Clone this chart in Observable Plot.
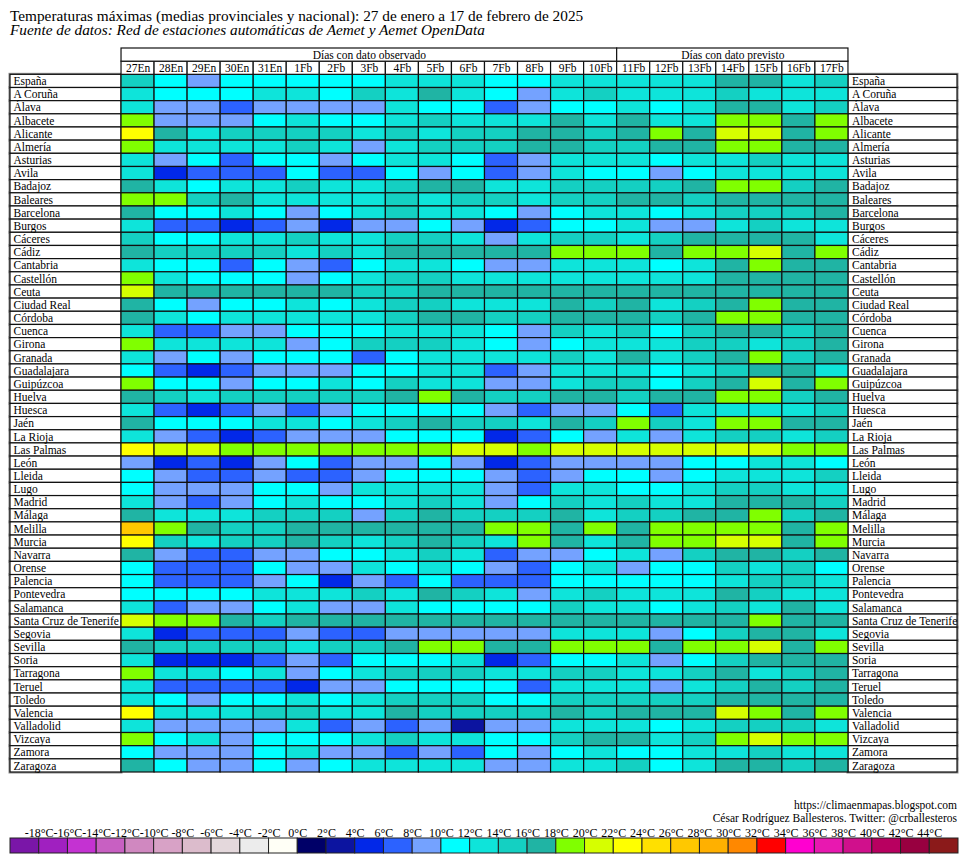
<!DOCTYPE html>
<html><head><meta charset="utf-8">
<script src="https://cdn.jsdelivr.net/npm/d3@7"></script>
<script src="https://cdn.jsdelivr.net/npm/@observablehq/plot@0.6"></script>
<style>
body{margin:0;background:#fff;width:967px;height:860px;position:relative;overflow:hidden;font-family:"Liberation Serif","Times New Roman",serif;color:#000;}
#title{position:absolute;left:10px;top:8.5px;font-size:15.3px;line-height:14px;white-space:nowrap;}
#subtitle{position:absolute;left:10px;top:22.5px;font-size:15.3px;line-height:13px;font-style:italic;white-space:nowrap;}
#chart{position:absolute;left:0;top:40px;}
#legend{position:absolute;left:0;top:795px;}
#credits{position:absolute;right:10px;top:799px;text-align:right;font-size:11.5px;line-height:13px;white-space:nowrap;}
</style></head>
<body>
<div id="title">Temperaturas máximas (medias provinciales y nacional): 27 de enero a 17 de febrero de 2025</div>
<div id="subtitle">Fuente de datos: Red de estaciones automáticas de Aemet y Aemet OpenData</div>
<div id="chart"></div>
<div id="legend"></div>
<div id="credits">https://climaenmapas.blogspot.com<br>César Rodríguez Ballesteros. Twitter: @crballesteros</div>
<script>
// ---- data ----
const provinces = ["España","A Coruña","Álava","Albacete","Alicante","Almería","Asturias","Avila","Badajoz","Baleares","Barcelona","Burgos","Cáceres","Cádiz","Cantabria","Castellón","Ceuta","Ciudad Real","Córdoba","Cuenca","Girona","Granada","Guadalajara","Guipúzcoa","Huelva","Huesca","Jaén","La Rioja","Las Palmas","León","Lleida","Lugo","Madrid","Málaga","Melilla","Murcia","Navarra","Orense","Palencia","Pontevedra","Salamanca","Santa Cruz de Tenerife","Segovia","Sevilla","Soria","Tarragona","Teruel","Toledo","Valencia","Valladolid","Vizcaya","Zamora","Zaragoza"];

const days = ["27En","28En","29En","30En","31En","1Fb","2Fb","3Fb","4Fb","5Fb","6Fb","7Fb","8Fb","9Fb","10Fb","11Fb","12Fb","13Fb","14Fb","15Fb","16Fb","17Fb"];

const periods = ["Días con dato observado","Días con dato previsto"];
const periodLengths = [15, 7];

// mean maximum temperature (°C), one row per province, one value per day
const tmax = [
[15,11,9,11,11,11,11,11,13,13,13, 11,11,13,13,13,13,13,17,17,13,15],
[13,11,11,11,13,13,11,15,13,17,13, 11,9,13,15,13,13,13,15,13,13,13],
[13,9,9,7,9,9,9,9,13,11,11, 7,9,11,11,13,11,13,17,17,13,15],
[19,9,9,9,11,13,11,11,13,15,13, 13,13,17,13,17,13,13,19,19,17,19],
[23,17,13,15,15,15,15,13,15,13,15, 15,17,17,15,17,19,17,21,21,17,19],
[19,13,13,13,13,15,13,9,13,15,15, 15,17,17,15,15,17,17,19,19,17,17],
[13,9,11,7,11,11,9,11,13,13,11, 7,9,13,13,13,11,13,13,15,13,13],
[13,5,7,7,7,11,7,7,11,9,11, 7,9,13,11,11,9,11,13,13,13,13],
[17,13,11,13,13,15,13,13,15,17,17, 13,13,15,15,15,15,17,19,19,15,17],
[19,19,15,17,13,13,13,13,15,13,15, 15,13,15,15,17,17,15,17,17,17,17],
[17,11,11,13,11,9,11,13,15,13,13, 11,9,11,13,13,11,13,15,15,15,17],
[13,7,7,5,7,9,5,9,9,11,9, 5,7,11,11,13,9,9,13,15,13,13],
[15,11,11,13,13,15,13,13,15,15,13, 9,13,15,15,13,15,17,17,17,17,13],
[17,15,15,15,15,13,15,13,17,17,17, 17,17,19,19,19,17,19,19,21,17,19],
[13,11,11,7,11,9,7,11,13,13,11, 9,9,13,13,13,11,13,17,19,17,17],
[19,13,11,11,11,9,11,13,15,15,13, 13,13,13,13,13,13,13,17,17,17,17],
[21,17,17,17,17,17,17,15,15,17,17, 17,17,17,17,17,17,17,17,17,17,17],
[17,11,9,11,11,13,11,13,15,15,13, 13,13,17,15,17,13,15,17,19,17,17],
[17,13,11,13,13,13,13,13,15,17,17, 15,15,17,17,17,15,17,19,19,17,17],
[13,7,7,9,9,11,11,11,13,13,13, 11,9,15,13,15,11,15,17,17,15,17],
[19,13,13,13,13,9,11,15,15,15,13, 11,9,11,13,13,13,15,15,13,15,17],
[13,9,11,9,11,11,11,7,11,13,13, 13,13,15,13,17,13,15,17,19,15,17],
[11,7,5,7,9,9,9,11,11,13,13, 7,9,13,13,13,11,13,15,17,17,13],
[19,11,11,9,11,11,13,11,15,13,13, 9,9,13,15,15,11,15,17,21,17,19],
[17,15,13,15,15,15,15,15,17,19,17, 15,15,17,17,15,17,17,19,19,15,17],
[13,7,5,7,9,7,9,11,11,11,11, 9,7,9,9,11,7,13,13,13,13,15],
[17,11,11,11,13,13,11,13,15,17,15, 15,13,17,15,19,15,13,19,19,17,17],
[13,9,7,5,7,9,9,9,11,11,11, 5,7,11,9,13,9,13,15,15,13,15],
[23,21,21,19,19,19,19,19,19,19,21, 21,19,21,21,21,21,21,21,21,19,19],
[9,5,7,5,9,11,7,9,9,11,9, 5,7,9,9,9,9,11,11,13,13,11],
[11,9,7,7,9,7,7,9,11,11,11, 9,7,9,11,11,9,11,13,13,13,15],
[11,9,9,9,11,11,9,13,13,13,13, 9,7,13,13,11,11,13,15,15,13,13],
[13,9,7,9,11,13,11,11,13,15,13, 9,11,15,13,15,13,13,17,17,17,15],
[17,13,13,13,15,15,15,9,15,17,15, 15,15,17,13,15,15,17,17,19,15,17],
[27,19,17,15,15,17,17,17,17,17,17, 19,19,17,19,17,19,19,19,19,17,19],
[23,15,13,15,15,17,15,13,15,17,15, 13,19,17,13,17,19,19,21,21,17,19],
[17,9,7,7,9,9,11,11,13,15,13, 7,9,9,11,13,9,15,17,17,15,17],
[11,7,7,7,11,9,9,13,11,13,11, 9,7,11,13,9,11,11,15,13,15,11],
[11,7,7,7,9,11,5,9,7,11,7, 7,7,11,11,11,11,11,13,15,15,13],
[11,11,11,11,13,13,13,15,13,17,15, 13,9,13,15,13,13,13,17,15,13,13],
[13,7,9,9,11,13,9,9,13,11,11, 11,11,15,13,13,11,13,15,13,17,13],
[21,19,19,17,15,17,17,17,17,17,17, 17,17,17,17,17,17,17,17,19,17,17],
[13,5,7,7,7,9,7,7,9,9,9, 9,9,13,13,13,9,11,15,17,17,13],
[17,15,15,15,15,13,15,15,17,19,19, 17,17,19,19,19,17,19,19,21,17,19],
[13,5,5,5,7,9,7,11,11,11,13, 5,7,11,11,13,9,11,15,17,17,17],
[19,13,13,11,13,9,11,13,15,15,15, 13,13,15,15,13,13,15,17,13,15,17],
[13,7,7,7,7,5,9,9,11,11,11, 11,7,13,13,13,9,13,15,17,15,17],
[13,11,9,11,11,13,11,13,15,15,15, 11,11,15,15,15,15,15,17,17,17,17],
[23,13,13,13,15,15,13,13,17,15,15, 15,15,17,15,17,17,17,21,19,17,19],
[13,9,9,9,9,13,7,9,7,9,3, 9,9,13,13,13,11,13,15,15,15,13],
[19,11,13,9,11,11,11,13,15,13,13, 11,11,15,17,17,13,15,19,21,19,19],
[11,9,9,9,11,13,9,9,7,9,7, 11,9,11,13,11,11,13,13,15,13,13],
[17,11,9,9,11,9,11,13,13,13,13, 9,9,13,13,15,11,13,17,17,15,17]
];

// colour classes (°C), every 2 degrees
const thresholds = d3.range(-18, 45, 2);
const palette = ["#7a16a8","#a020c0","#c432d2","#c860c2","#d088c0","#d8a2c6","#dcbccc","#e4d8dc","#ececec","#fffff6",
  "#000068","#0c14a0","#0228e8","#2c62ff","#74a2ff","#00ffff","#0ee4da","#14d0c2","#20b4a4",
  "#80ff00","#d6ff00","#ffff00","#ffe000","#ffc800","#ffb000","#ff8800","#ff0000","#ff00d0","#e818b0","#d0108c","#b80060","#980040","#8b1a1a"];

// ---- build ----
const font = '"Liberation Serif","Times New Roman",serif';
const color = {type: "threshold", domain: thresholds, range: palette};
const cells = provinces.flatMap((p, r) => tmax[r].map((v, i) => ({p, i, day: days[i], v})));
const spans = periods.map((name, k) => ({name, start: d3.sum(periodLengths.slice(0, k)), end: d3.sum(periodLengths.slice(0, k + 1))}));
const rows = ["periodo", "dia", ...provinces];
const labelL = 3.36, labelR = 3.30; // label column widths, in day-column units
const n = days.length;
const line = {stroke: "#111", strokeWidth: 1.2};

const chart = Plot.plot({
  width: 967, height: 740,
  marginTop: 8, marginBottom: 8, marginLeft: 10, marginRight: 10,
  x: {domain: [-labelL, n + labelR], axis: null},
  y: {type: "band", domain: rows, padding: 0, round: false, axis: null},
  color,
  style: {fontFamily: font, fontSize: "11.5px", background: "white", color: "black"},
  marks: [
    // grey bevel of the two label columns
    Plot.barX(provinces, {x1: () => -labelL, x2: () => 0, y: d => d, fill: "white", stroke: "#8a8a8a", strokeWidth: 3}),
    Plot.barX(provinces, {x1: () => n, x2: () => n + labelR, y: d => d, fill: "white", stroke: "#8a8a8a", strokeWidth: 3}),
    Plot.barX(provinces, {x1: () => -labelL, x2: () => 0, y: d => d, fill: "white", ...line}),
    Plot.barX(provinces, {x1: () => n, x2: () => n + labelR, y: d => d, fill: "white", ...line}),
    Plot.barX(cells, {x1: "i", x2: d => d.i + 1, y: "p", fill: "v", ...line}),
    Plot.barX(days, {x1: (d, i) => i, x2: (d, i) => i + 1, y: () => "dia", fill: "white", ...line}),
    Plot.text(days, {x: (d, i) => i + 0.5, y: () => "dia", text: d => d, fontSize: 11.5}),
    Plot.barX(spans, {x1: "start", x2: "end", y: () => "periodo", fill: "white", ...line}),
    Plot.text(spans, {x: d => (d.start + d.end) / 2, y: () => "periodo", text: "name", fontSize: 11.5}),
    Plot.text(provinces, {x: () => -labelL, y: d => d, text: d => d, textAnchor: "start", dx: 3, fontSize: 11.5}),
    Plot.text(provinces, {x: () => n, y: d => d, text: d => d, textAnchor: "start", dx: 3.5, fontSize: 11.5})
  ]
});
document.getElementById("chart").append(chart);

const bins = palette.map((c, k) => ({
  lo: k === 0 ? thresholds[0] - 2 : thresholds[k - 1],
  hi: k === thresholds.length ? thresholds[thresholds.length - 1] + 2 : thresholds[k]
}));
const legend = Plot.plot({
  width: 967, height: 65,
  marginTop: 43, marginBottom: 7, marginLeft: 10, marginRight: 9,
  x: {domain: [thresholds[0] - 2, thresholds[thresholds.length - 1] + 2], axis: null},
  color,
  style: {fontFamily: font, fontSize: "12px", background: "transparent", color: "black"},
  marks: [
    Plot.rect(bins, {x1: "lo", x2: "hi", fill: d => (d.lo + d.hi) / 2, stroke: "#222", strokeWidth: 1}),
    Plot.text(thresholds, {x: d => d, text: d => `${d}°C`, frameAnchor: "top", lineAnchor: "bottom", dy: -2, fontSize: 12})
  ]
});
document.getElementById("legend").append(legend);
</script>
</body></html>
